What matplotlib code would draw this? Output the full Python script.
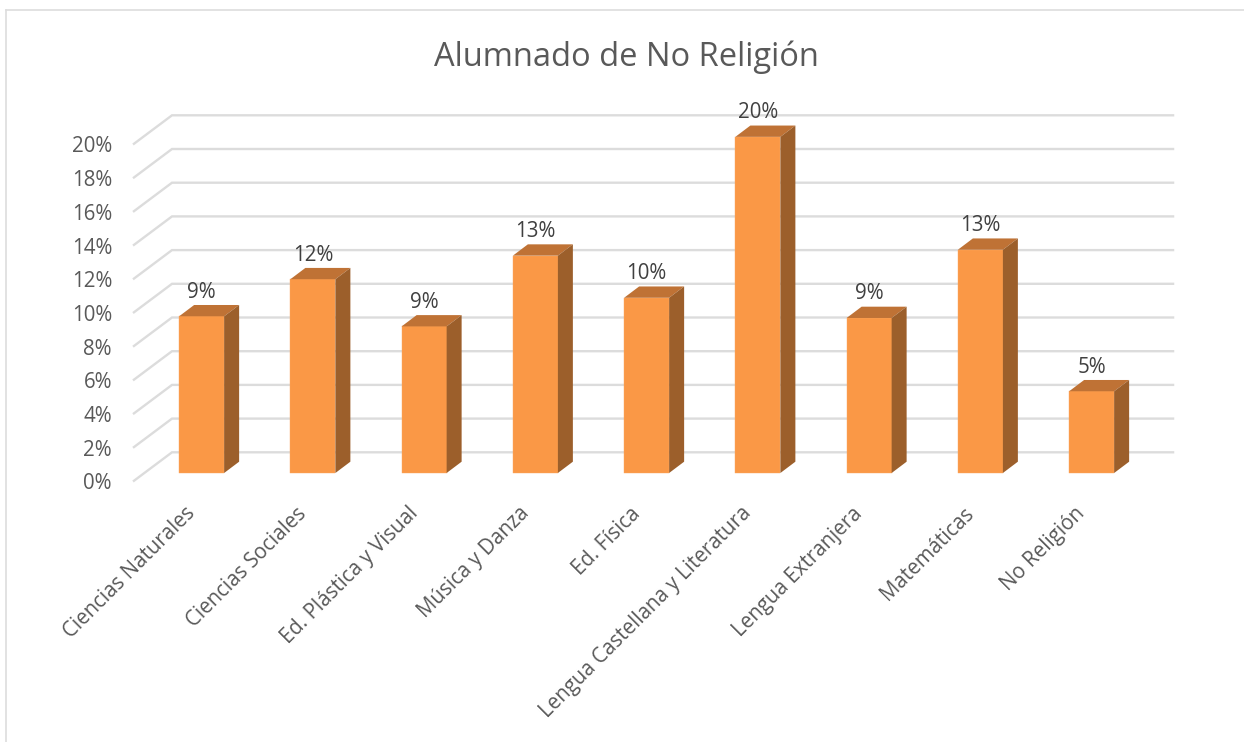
import matplotlib
matplotlib.use("Agg")
import matplotlib.pyplot as plt
from matplotlib.patches import Polygon
from matplotlib.lines import Line2D

categories = ["Ciencias Naturales", "Ciencias Sociales", "Ed. Plástica y Visual",
              "Música y Danza", "Ed. Física", "Lengua Castellana y Literatura",
              "Lengua Extranjera", "Matemáticas", "No Religión"]
values = [9.3, 11.5, 8.7, 12.9, 10.4, 19.95, 9.2, 13.25, 4.85]
labels = ["9%", "12%", "9%", "13%", "10%", "20%", "9%", "13%", "5%"]
y_ticks = [0, 2, 4, 6, 8, 10, 12, 14, 16, 18, 20]
title = "Alumnado de No Religión"

W, H = 1244, 742
FONT = "Open Sans"
plt.rcParams["font.family"] = [FONT, "DejaVu Sans"]

FRONT = "#FA9846"
TOP = "#BF7235"
SIDE = "#9C5F2B"
GRID = "#DCDCDC"
TEXT = "#595959"
LABEL = "#404040"
FS = 14.8

fig = plt.figure(figsize=(W / 100, H / 100), dpi=100, facecolor="white")

def rect(l, r, bottom_px, top_px):
    return [l / W, 1 - bottom_px / H, (r - l) / W, (bottom_px - top_px) / H]

L, R, Y0, Y20 = 146, 1147.25, 473, 136
ax = fig.add_axes(rect(L, R, Y0, Y20))
ax.set_xlim(-0.5, len(categories) - 0.5)
ax.set_ylim(0, 20)
ax.axis("off")

ppx = (R - L) / len(categories)   # pixels per category
ppy = (Y0 - Y20) / 20             # pixels per percent

# grid: floor edge -> back wall -> right end
for t in y_ticks:
    xs = [-0.5 - 13 / ppx, -0.5 + 26 / ppx, len(categories) - 0.5 + 27 / ppx]
    ys = [t - 8.5 / ppy, t + 20.7 / ppy, t + 20.7 / ppy]
    ax.plot(xs, ys, color=GRID, lw=1.7, clip_on=False, zorder=1,
            solid_capstyle="butt", solid_joinstyle="miter")

# 3D bars
bw = 45 / ppx
ddx, ddy = 15 / ppx, 11.3 / ppy
pos = list(range(len(categories)))
ax.bar(pos, values, width=bw, color=FRONT, zorder=3, clip_on=False,
       edgecolor="#FBA862", linewidth=0.3)
for x, v, lab in zip(pos, values, labels):
    l, r = x - bw / 2, x + bw / 2
    ax.add_patch(Polygon([(l, v), (r, v), (r + ddx, v + ddy), (l + ddx, v + ddy)],
                         closed=True, fc=TOP, ec="none", zorder=3, clip_on=False))
    ax.add_patch(Polygon([(r, 0), (r + ddx, ddy), (r + ddx, v + ddy), (r, v)],
                         closed=True, fc=SIDE, ec="none", zorder=3, clip_on=False))
    ax.annotate(lab, (x, v), xytext=(0, 24), textcoords="offset pixels",
                ha="center", va="center", fontsize=FS, color=LABEL, zorder=5,
                annotation_clip=False)

# y labels sit on a twin plane in front of the bars
axf = fig.add_axes(rect(L, R, Y0 + 8.5, Y20 + 8.5))
axf.patch.set_alpha(0)
axf.set_xlim(ax.get_xlim())
axf.set_ylim(0, 20)
for s in axf.spines.values():
    s.set_visible(False)
axf.set_xticks([])
axf.set_yticks(y_ticks)
axf.set_yticklabels([f"{t}%" for t in y_ticks], fontsize=FS, color=TEXT)
axf.tick_params(axis="y", length=0, pad=(L - 112) * 0.72)

# category labels are shifted left of the bar centres
SHIFT = 17
axc = fig.add_axes(rect(L - SHIFT, R - SHIFT, Y0 + 8.5, Y20 + 8.5))
axc.patch.set_alpha(0)
axc.set_xlim(ax.get_xlim())
axc.set_yticks([])
for s in axc.spines.values():
    s.set_visible(False)
axc.set_xticks(pos)
axc.set_xticklabels(categories, rotation=45, ha="right", va="top",
                    rotation_mode="anchor", fontsize=FS, color=TEXT)
axc.tick_params(axis="x", length=0, pad=15.5)

fig.text(626 / W, 1 - 57 / H, title, ha="center", va="center",
         fontsize=23.5, color=TEXT)

# chart-area border
fig.add_artist(Line2D([6 / W, 6 / W], [0, 1 - 10 / H], color="#DDDDDD", lw=1.2))
fig.add_artist(Line2D([6 / W, 1244 / W], [1 - 10 / H, 1 - 10 / H], color="#DDDDDD", lw=1.2))

fig.savefig("out.png", dpi=100)
